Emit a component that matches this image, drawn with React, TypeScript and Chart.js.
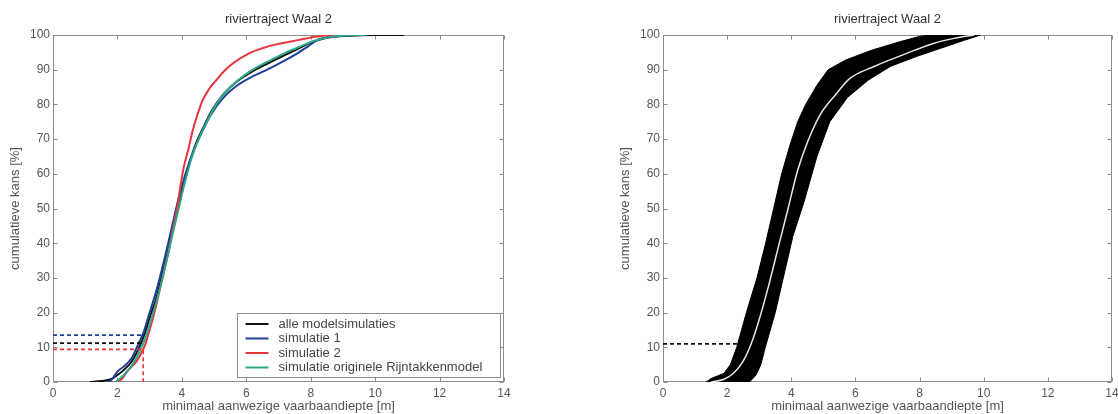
import React, { useEffect, useRef } from 'react';
import { Chart, registerables } from 'chart.js';

Chart.register(...registerables);

const FONT = '"Liberation Sans", Arial, Helvetica, sans-serif';
const CHART_TITLE = 'riviertraject Waal 2';
const X_TITLE = 'minimaal aanwezige vaarbaandiepte [m]';
const Y_TITLE = 'cumulatieve kans [%]';
const X_TICKS = [0, 2, 4, 6, 8, 10, 12, 14];
const Y_TICKS = [0, 10, 20, 30, 40, 50, 60, 70, 80, 90, 100];
const LEGEND_LABELS = ['alle modelsimulaties', 'simulatie 1', 'simulatie 2', 'simulatie originele Rijntakkenmodel'];
const COLORS = ['#111111', '#1d3f99', '#e8343c', '#2fa88a'];

// Left chart: cumulative curves (x = depth [m], y = cumulative probability [%])
const alleX = [1.15, 1.5, 1.8, 2.0, 2.2, 2.45, 2.7, 2.85, 3.0, 3.2, 3.35, 3.5, 3.65, 3.8, 3.95, 4.1, 4.25, 4.45, 4.7, 4.95, 5.3, 5.7, 6.1, 6.6, 7.1, 7.6, 8.0, 8.5, 9.2, 10.0, 10.9];
const alleY = [0, 0.3, 0.8, 2, 3.5, 6, 10.5, 14, 18.5, 24, 29.5, 35, 41, 47, 53, 58.5, 63.5, 69, 74, 78.5, 83, 86.5, 89, 91.5, 93.8, 96, 97.8, 99.2, 99.8, 100, 100];

const sim1X = [1.75, 1.85, 2.0, 2.2, 2.45, 2.65, 2.8, 2.95, 3.15, 3.3, 3.45, 3.6, 3.75, 3.9, 4.05, 4.2, 4.4, 4.65, 4.9, 5.25, 5.65, 6.1, 6.6, 7.1, 7.6, 7.9, 8.2, 8.6, 9.3, 9.8];
const sim1Y = [0, 1, 3, 4.5, 7, 11, 14, 18.5, 24.5, 29.5, 35, 41, 47, 53, 58, 62.5, 67.5, 72.5, 77, 81.5, 85, 87.6, 89.8, 92.2, 94.8, 96.6, 98.5, 99.5, 100, 100];

const sim2X = [2.0, 2.15, 2.3, 2.45, 2.6, 2.75, 2.85, 3.0, 3.15, 3.3, 3.45, 3.6, 3.72, 3.85, 3.95, 4.05, 4.2, 4.34, 4.5, 4.65, 4.85, 5.07, 5.3, 5.58, 6.1, 6.5, 6.93, 7.65, 8.16, 8.6, 9.0];
const sim2Y = [0, 1, 3, 4.5, 6, 8.5, 10.5, 15, 20, 26, 32, 38, 44, 50, 56, 61.5, 67, 72.6, 77.5, 81.3, 84.5, 87, 89.5, 91.8, 94.8, 96.2, 97.3, 98.6, 99.5, 99.9, 100];

const origX = [1.95, 2.2, 2.5, 2.75, 2.9, 3.05, 3.25, 3.4, 3.55, 3.7, 3.85, 4.0, 4.15, 4.3, 4.5, 4.75, 5.0, 5.35, 5.75, 6.2, 6.7, 7.2, 7.7, 8.1, 8.6, 9.2, 9.7];
const origY = [0, 2, 5.5, 10, 13.5, 18, 24.5, 30, 36, 42, 48, 54, 59.5, 64.5, 69.5, 74.5, 79, 83.5, 87, 90, 92.5, 94.8, 96.8, 98.3, 99.4, 99.9, 100];

// Dashed reference lines (left chart)
const refSim1X = [0, 2.75];
const refSim1Y = [13.5, 13.5];
const refAlleX = [0, 2.75];
const refAlleY = [11.2, 11.2];
const refSim2X = [0, 2.8, 2.8];
const refSim2Y = [9.4, 9.4, 0];

// Right chart: envelope of all simulations and the central curve
const bandLeftX = [1.35, 1.5, 1.9, 2.1, 2.3, 2.6, 2.93, 3.2, 3.45, 3.7, 3.95, 4.2, 4.45, 4.8, 5.15, 5.7, 6.5, 7.4, 8.0, 8.3, 9.9];
const bandLeftY = [0, 1, 2.5, 5, 10, 20, 30, 40, 50, 60, 68, 75, 80, 85.5, 90, 92.8, 95.6, 98.1, 99.6, 100, 100];
const bandRightX = [1.35, 2.7, 2.9, 3.05, 3.19, 3.5, 3.75, 4.05, 4.4, 4.8, 5.2, 5.75, 6.4, 7.1, 7.9, 8.7, 9.4, 9.9];
const bandRightY = [0, 0, 2, 5, 10, 20, 30, 42, 52, 65, 75, 82, 87, 91, 93.8, 96.3, 98.5, 100];
const centralX = [1.5, 1.9, 2.2, 2.5, 2.75, 3.0, 3.3, 3.6, 3.9, 4.2, 4.5, 4.9, 5.4, 5.8, 6.6, 7.6, 8.4, 9.1, 9.7];
const centralY = [0, 0.8, 2.5, 6, 11, 18, 28, 39, 50, 61, 69, 77, 83, 87.3, 91, 94.7, 97.5, 99.1, 100];
const refRightX = [0, 2.35];
const refRightY = [11, 11];

const pts = (xs: number[], ys: number[]) => xs.map((x, i) => ({ x, y: ys[i] }));

const boxPlugin = {
  id: 'boxFrame',
  beforeDatasetsDraw(chart: any) {
    const { ctx, chartArea: a, scales } = chart;
    const xs = scales.x;
    const ys = scales.y;
    ctx.save();
    ctx.strokeStyle = '#8c8c8c';
    ctx.lineWidth = 1;
    const l = Math.round(a.left) + 0.5;
    const r = Math.round(a.right) - 0.5;
    const t = Math.round(a.top) + 0.5;
    const b = Math.round(a.bottom) - 0.5;
    ctx.strokeRect(l, t, r - l, b - t);
    ctx.beginPath();
    X_TICKS.forEach((v) => {
      const p = Math.round(xs.getPixelForValue(v)) + 0.5;
      ctx.moveTo(p, b);
      ctx.lineTo(p, b - 4);
      ctx.moveTo(p, t);
      ctx.lineTo(p, t + 4);
    });
    Y_TICKS.forEach((v) => {
      const p = Math.round(ys.getPixelForValue(v)) + 0.5;
      ctx.moveTo(l, p);
      ctx.lineTo(l + 4, p);
      ctx.moveTo(r, p);
      ctx.lineTo(r - 4, p);
    });
    ctx.stroke();
    ctx.restore();
  },
};

const boxLegendPlugin = {
  id: 'boxLegend',
  afterDatasetsDraw(chart: any, _args: any, opts: any) {
    if (!opts || !opts.items) return;
    const { ctx, chartArea: a } = chart;
    const left = Math.round(a.right - 267) + 0.5;
    const right = Math.round(a.right - 4) + 0.5;
    const top = Math.round(a.bottom - 69) + 0.5;
    const bottom = Math.round(a.bottom - 5) + 0.5;
    ctx.save();
    ctx.fillStyle = '#ffffff';
    ctx.fillRect(left, top, right - left, bottom - top);
    ctx.strokeStyle = '#8c8c8c';
    ctx.lineWidth = 1;
    ctx.strokeRect(left, top, right - left, bottom - top);
    ctx.font = `13px ${FONT}`;
    ctx.textBaseline = 'middle';
    opts.items.forEach((it: any, i: number) => {
      const yy = top + 10.5 + i * 14.5;
      ctx.strokeStyle = it.color;
      ctx.lineWidth = 2;
      ctx.beginPath();
      ctx.moveTo(left + 8, yy);
      ctx.lineTo(left + 31, yy);
      ctx.stroke();
      ctx.fillStyle = '#444';
      ctx.fillText(it.label, left + 41, yy);
    });
    ctx.restore();
  },
};

function makeOptions(padLeft: number, padRight: number, legendItems: any) {
  return {
    responsive: false,
    animation: false as const,
    events: [],
    layout: { padding: { left: padLeft, right: padRight, top: 0, bottom: 0 } },
    plugins: {
      legend: { display: false },
      tooltip: { enabled: false },
      title: {
        display: true,
        text: CHART_TITLE,
        fullSize: false,
        color: '#333',
        font: { family: FONT, size: 13, weight: 'normal' as const },
        padding: { top: 12, bottom: 7.4 },
      },
      boxLegend: legendItems ? { items: legendItems } : {},
    },
    scales: {
      x: {
        type: 'linear' as const,
        min: 0,
        max: 14,
        afterBuildTicks: (s: any) => {
          s.ticks = X_TICKS.map((v) => ({ value: v }));
        },
        afterFit: (s: any) => {
          s.height = 32;
        },
        ticks: { color: '#555', font: { family: FONT, size: 12 }, padding: 4, maxRotation: 0, autoSkip: false },
        grid: { display: false, drawTicks: false },
        border: { display: false },
        title: {
          display: true,
          text: X_TITLE,
          color: '#555',
          font: { family: FONT, size: 13 },
          padding: { top: 0, bottom: 0 },
        },
      },
      y: {
        type: 'linear' as const,
        min: 0,
        max: 100,
        afterBuildTicks: (s: any) => {
          s.ticks = Y_TICKS.map((v) => ({ value: v }));
        },
        afterFit: (s: any) => {
          s.width = 53;
        },
        ticks: { color: '#555', font: { family: FONT, size: 12 }, padding: 3, autoSkip: false },
        grid: { display: false, drawTicks: false },
        border: { display: false },
        title: {
          display: true,
          text: Y_TITLE,
          color: '#555',
          font: { family: FONT, size: 13 },
          padding: { top: 8, bottom: 0 },
        },
      },
    },
  };
}

const curve = (data: any, color: string, order: number) => ({
  data,
  borderColor: color,
  borderWidth: 2,
  pointRadius: 0,
  fill: false,
  cubicInterpolationMode: 'monotone' as const,
  order,
});

const dashed = (data: any, color: string, order: number) => ({
  data,
  borderColor: color,
  borderWidth: 1.6,
  borderDash: [4, 3],
  pointRadius: 0,
  fill: false,
  tension: 0,
  order,
});

export default function App() {
  const leftRef = useRef<HTMLCanvasElement>(null);
  const rightRef = useRef<HTMLCanvasElement>(null);

  useEffect(() => {
    const legendItems = LEGEND_LABELS.map((label, i) => ({ label, color: COLORS[i] }));
    const left = new Chart(leftRef.current as HTMLCanvasElement, {
      type: 'line',
      data: {
        datasets: [
          curve(pts(alleX, alleY), COLORS[0], 4),
          curve(pts(sim1X, sim1Y), COLORS[1], 3),
          curve(pts(sim2X, sim2Y), COLORS[2], 2),
          curve(pts(origX, origY), COLORS[3], 1),
          dashed(pts(refSim1X, refSim1Y), COLORS[1], 0),
          dashed(pts(refAlleX, refAlleY), COLORS[0], 0),
          dashed(pts(refSim2X, refSim2Y), COLORS[2], 0),
        ] as any,
      },
      options: makeOptions(0, 55, legendItems) as any,
      plugins: [boxPlugin, boxLegendPlugin],
    });

    const right = new Chart(rightRef.current as HTMLCanvasElement, {
      type: 'line',
      data: {
        datasets: [
          {
            data: pts(bandLeftX, bandLeftY),
            borderColor: '#000',
            backgroundColor: '#000',
            borderWidth: 1,
            pointRadius: 0,
            tension: 0,
            fill: '+1',
            order: 3,
          },
          {
            data: pts(bandRightX, bandRightY),
            borderColor: '#000',
            borderWidth: 1,
            pointRadius: 0,
            tension: 0,
            fill: false,
            order: 2,
          },
          {
            data: pts(centralX, centralY),
            borderColor: '#e8e8e8',
            borderWidth: 1.5,
            pointRadius: 0,
            cubicInterpolationMode: 'monotone',
            fill: false,
            order: 1,
          },
          dashed(pts(refRightX, refRightY), '#111', 0),
        ] as any,
      },
      options: makeOptions(51, 22, null) as any,
      plugins: [boxPlugin, boxLegendPlugin],
    });

    return () => {
      left.destroy();
      right.destroy();
    };
  }, []);

  return (
    <div
      style={{
        position: 'absolute',
        left: 0,
        top: 0,
        width: 1118,
        height: 414,
        overflow: 'hidden',
        background: '#ffffff',
      }}
    >
      <canvas ref={leftRef} width={559} height={414} style={{ position: 'absolute', left: 0, top: 0 }} />
      <canvas ref={rightRef} width={575} height={414} style={{ position: 'absolute', left: 559, top: 0 }} />
    </div>
  );
}
